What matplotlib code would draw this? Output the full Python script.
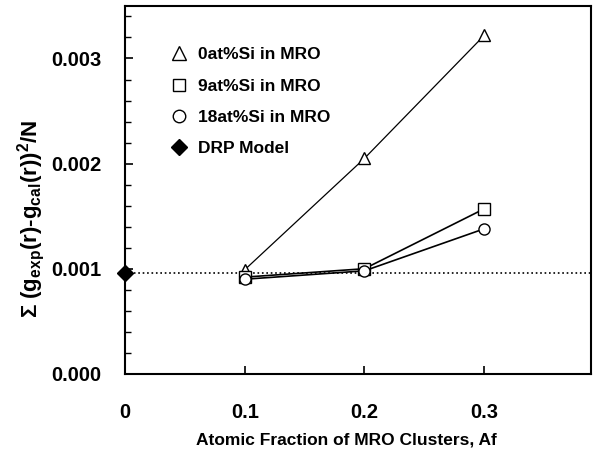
import matplotlib
matplotlib.use("Agg")
import matplotlib.pyplot as plt
from matplotlib.lines import Line2D
from matplotlib.ticker import MultipleLocator

plt.rcParams['font.family'] = ['Liberation Sans', 'DejaVu Sans']
plt.rcParams['font.weight'] = 'bold'
plt.rcParams['axes.labelweight'] = 'bold'
plt.rcParams['mathtext.default'] = 'regular'

# values
af = [0.1, 0.2, 0.3]
si0 = [0.00099, 0.00205, 0.00322]
si9 = [0.00092, 0.00100, 0.00157]
si18 = [0.00090, 0.00098, 0.00138]
drp_x = [0.0]
drp_y = [0.00096]
labels = ["0at%Si in MRO", "9at%Si in MRO", "18at%Si in MRO", "DRP Model"]

fig = plt.figure(figsize=(5.95, 4.57), dpi=100)
ax = fig.add_axes([0.210, 0.182, 0.783, 0.805])

ax.axhline(drp_y[0], color='black', linestyle=':', linewidth=1.2)
ax.plot(af, si0, color='black', linewidth=0.9, marker='^', markersize=9,
        markerfacecolor='white', markeredgecolor='black', markeredgewidth=1)
ax.plot(af, si9, color='black', linewidth=1.2, marker='s', markersize=8,
        markerfacecolor='white', markeredgecolor='black', markeredgewidth=1)
ax.plot(af, si18, color='black', linewidth=1.2, marker='o', markersize=8,
        markerfacecolor='white', markeredgecolor='black', markeredgewidth=1)
ax.plot(drp_x, drp_y, linestyle='none', marker='D', markersize=8,
        color='black', clip_on=False, zorder=5)

ax.set_xlim(0, 0.389)
ax.set_ylim(0, 0.0035)
ax.set_xticks([0, 0.1, 0.2, 0.3])
ax.set_xticklabels(["0", "0.1", "0.2", "0.3"])
ax.set_yticks([0, 0.001, 0.002, 0.003])
ax.set_yticklabels(["0.000", "0.001", "0.002", "0.003"])
ax.yaxis.set_minor_locator(MultipleLocator(0.0002))
ax.tick_params(direction='in', labelsize=14.5, width=1.2, length=6)
ax.tick_params(axis='y', pad=17)
ax.tick_params(axis='y', which='minor', direction='in', length=4, width=1)
ax.tick_params(axis='x', pad=21)
for s in ax.spines.values():
    s.set_linewidth(1.5)

ax.set_xlabel("Atomic Fraction of MRO Clusters, Af", fontsize=12.5)
ax.xaxis.set_label_coords(0.475, -0.16)
ax.set_ylabel(r"$\Sigma$ (g$_{exp}$(r)-g$_{cal}$(r))$^{2}$/N", fontsize=16)
ax.yaxis.set_label_coords(-0.168, 0.42)

handles = [
    Line2D([], [], linestyle='none', marker='^', markersize=10, markerfacecolor='white', markeredgecolor='black'),
    Line2D([], [], linestyle='none', marker='s', markersize=9, markerfacecolor='white', markeredgecolor='black'),
    Line2D([], [], linestyle='none', marker='o', markersize=9, markerfacecolor='white', markeredgecolor='black'),
    Line2D([], [], linestyle='none', marker='D', markersize=8, color='black'),
]
ax.legend(handles, labels, loc='upper left', bbox_to_anchor=(0.06, 0.93), frameon=False,
          fontsize=12.5, handletextpad=0.5, labelspacing=0.93, handlelength=1.2)

fig.savefig("out.png", dpi=100)
